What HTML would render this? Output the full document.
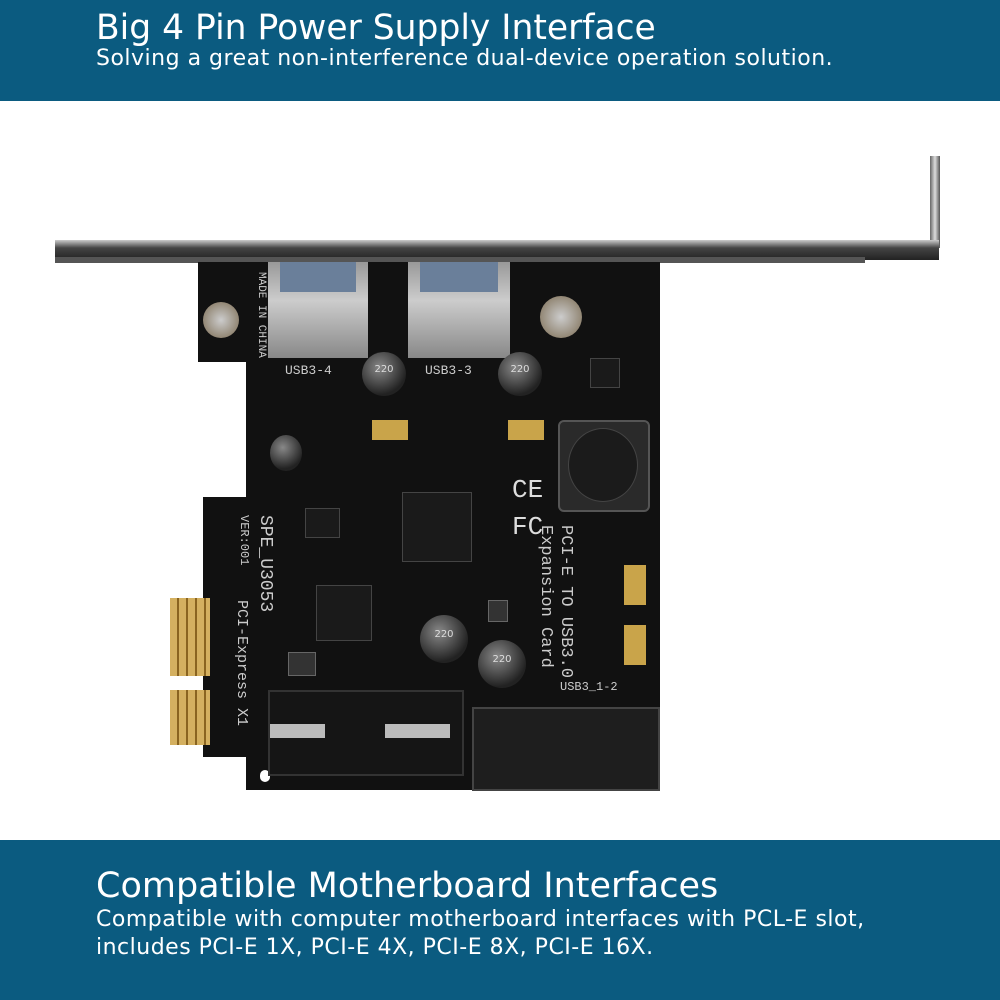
<!DOCTYPE html>
<html><head><meta charset="utf-8"><style>
*{margin:0;padding:0;box-sizing:border-box}
body{width:1000px;height:1000px;background:#fff;position:relative;overflow:hidden;font-family:"DejaVu Sans","Liberation Sans",sans-serif}
.band{position:absolute;left:0;width:1000px;background:#0b5b80;color:#fff}
.a{position:absolute}
.t{position:absolute;left:96px;white-space:nowrap;color:#fff}
.chip{position:absolute;background:#1a1a1a;border:1px solid #444}
.cap{position:absolute;border-radius:50%;background:radial-gradient(circle at 40% 35%,#888,#222 70%);color:#ddd;font-size:10px;text-align:center}
.pad{position:absolute;background:#c9a44a}
.smd{position:absolute;background:#333;border:1px solid #666}
.lbl{position:absolute;color:#ccc;font-family:"Liberation Mono",monospace;font-size:13px;white-space:nowrap}
</style></head><body>
<div class="band" style="top:0;height:101px"></div>
<div class="t" style="top:8px;font-size:34.5px">Big 4 Pin Power Supply Interface</div>
<div class="t" style="top:46px;font-size:22px;letter-spacing:0.5px">Solving a great non-interference dual-device operation solution.</div>

<div class="a" style="left:930px;top:156px;width:10px;height:92px;background:linear-gradient(90deg,#666,#ddd,#555)"></div>
<div class="a" style="left:55px;top:240px;width:884px;height:20px;background:linear-gradient(#ccc,#444 40%,#222)"></div>
<div class="a" style="left:55px;top:257px;width:810px;height:6px;background:#555"></div>

<div class="a" style="left:246px;top:262px;width:414px;height:528px;background:#111"></div>
<div class="a" style="left:198px;top:262px;width:52px;height:100px;background:#111"></div>
<div class="a" style="left:203px;top:497px;width:47px;height:260px;background:#111"></div>
<div class="a" style="left:260px;top:770px;width:10px;height:12px;background:#fff;border-radius:5px"></div>
<div class="a" style="left:170px;top:598px;width:40px;height:78px;background:repeating-linear-gradient(90deg,#d4b060 0 7px,#8a6420 7px 9px)"></div>
<div class="a" style="left:170px;top:690px;width:40px;height:55px;background:repeating-linear-gradient(90deg,#d4b060 0 7px,#8a6420 7px 9px)"></div>

<div class="a" style="left:268px;top:262px;width:100px;height:96px;background:linear-gradient(#999,#ccc 40%,#888)"></div>
<div class="a" style="left:280px;top:262px;width:76px;height:30px;background:#6a7f9a"></div>
<div class="a" style="left:408px;top:262px;width:102px;height:96px;background:linear-gradient(#999,#ccc 40%,#888)"></div>
<div class="a" style="left:420px;top:262px;width:78px;height:30px;background:#6a7f9a"></div>
<div class="lbl" style="left:285px;top:363px">USB3-4</div>
<div class="lbl" style="left:425px;top:363px">USB3-3</div>
<div class="lbl" style="left:267px;top:272px;transform:rotate(90deg);transform-origin:left top;font-size:11px">MADE IN CHINA</div>
<div class="cap" style="left:203px;top:302px;width:36px;height:36px;background:radial-gradient(#ccc,#7a6a50)"></div>
<div class="cap" style="left:540px;top:296px;width:42px;height:42px;background:radial-gradient(#ccc,#7a6a50)"></div>
<div class="cap" style="left:362px;top:352px;width:44px;height:44px;padding-top:12px">220</div>
<div class="cap" style="left:498px;top:352px;width:44px;height:44px;padding-top:12px">220</div>
<div class="cap" style="left:420px;top:615px;width:48px;height:48px;padding-top:14px">220</div>
<div class="cap" style="left:478px;top:640px;width:48px;height:48px;padding-top:14px">220</div>
<div class="cap" style="left:270px;top:435px;width:32px;height:36px"></div>
<div class="a" style="left:558px;top:420px;width:92px;height:92px;background:#2a2a2a;border:2px solid #555;border-radius:6px"></div>
<div class="cap" style="left:568px;top:428px;width:70px;height:74px;background:#1b1b1b;border:1px solid #444"></div>
<div class="chip" style="left:402px;top:492px;width:70px;height:70px"></div>
<div class="chip" style="left:316px;top:585px;width:56px;height:56px"></div>
<div class="chip" style="left:305px;top:508px;width:35px;height:30px"></div>
<div class="chip" style="left:590px;top:358px;width:30px;height:30px"></div>
<div class="smd" style="left:488px;top:600px;width:20px;height:22px"></div>
<div class="smd" style="left:288px;top:652px;width:28px;height:24px"></div>
<div class="pad" style="left:372px;top:420px;width:36px;height:20px"></div>
<div class="pad" style="left:508px;top:420px;width:36px;height:20px"></div>
<div class="pad" style="left:624px;top:565px;width:22px;height:40px"></div>
<div class="pad" style="left:624px;top:625px;width:22px;height:40px"></div>
<div class="a" style="left:268px;top:690px;width:196px;height:86px;background:#151515;border:2px solid #333"></div>
<div class="a" style="left:270px;top:724px;width:55px;height:14px;background:#bbb"></div>
<div class="a" style="left:385px;top:724px;width:65px;height:14px;background:#bbb"></div>
<div class="a" style="left:472px;top:707px;width:188px;height:84px;background:#1e1e1e;border:2px solid #444"></div>
<div class="lbl" style="left:575px;top:525px;transform:rotate(90deg);transform-origin:left top;font-size:17px;line-height:20px">PCI-E TO USB3.0<br>Expansion Card</div>
<div class="lbl" style="left:275px;top:515px;transform:rotate(90deg);transform-origin:left top;font-size:18px;line-height:20px">SPE_U3053<br><span style="font-size:12px">VER:001</span></div>
<div class="lbl" style="left:250px;top:600px;transform:rotate(90deg);transform-origin:left top;font-size:15px">PCI-Express X1</div>
<div class="lbl" style="left:560px;top:680px;font-size:12px">USB3_1-2</div>
<div class="lbl" style="left:512px;top:475px;font-size:26px;color:#ddd">CE</div>
<div class="lbl" style="left:512px;top:512px;font-size:26px;color:#ddd">FC</div>

<div class="band" style="top:840px;height:160px"></div>
<div class="t" style="top:866px;font-size:35px">Compatible Motherboard Interfaces</div>
<div class="t" style="top:907px;font-size:22px;letter-spacing:0.5px">Compatible with computer motherboard interfaces with PCL-E slot,</div>
<div class="t" style="top:935px;font-size:22px;letter-spacing:0.5px">includes PCI-E 1X, PCI-E 4X, PCI-E 8X, PCI-E 16X.</div>
</body></html>
